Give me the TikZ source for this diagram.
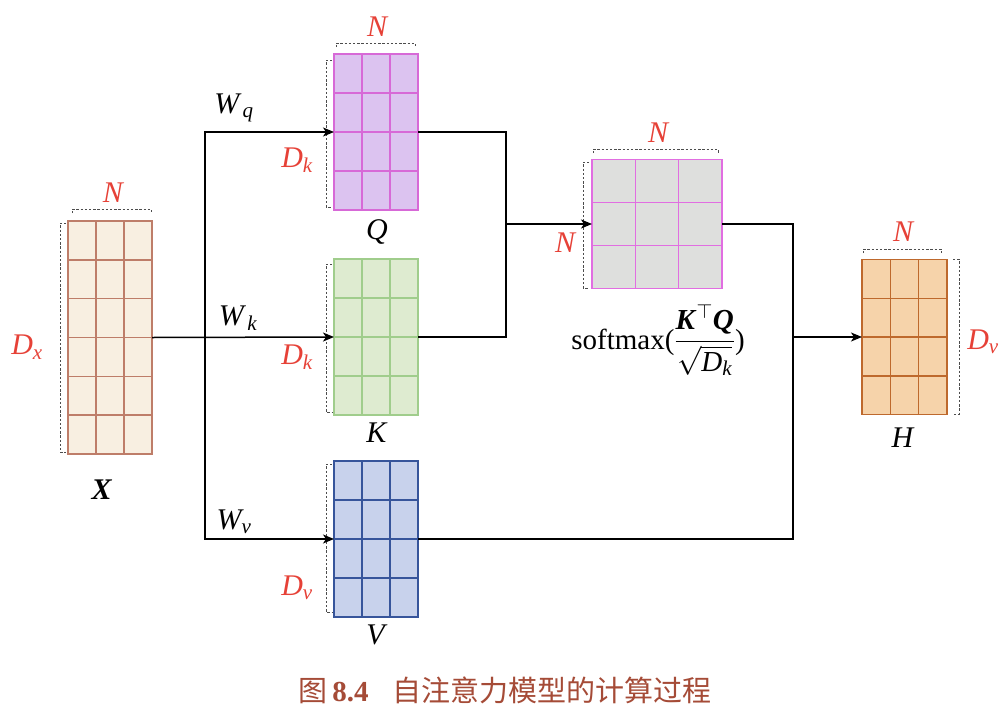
\RequirePackage{fix-cm}
\documentclass[tikz,border=0pt]{standalone}
\usepackage{amsmath}
\usepackage{fontspec}
\setmainfont{Liberation Serif}
\newfontfamily\cjk{Noto Sans CJK SC}
\usetikzlibrary{calc,arrows.meta}
\definecolor{Xfill}{RGB}{248,239,225}\definecolor{Xdraw}{RGB}{190,125,105}
\definecolor{Qfill}{RGB}{220,195,240}\definecolor{Qdraw}{RGB}{215,105,215}
\definecolor{Kfill}{RGB}{222,235,208}\definecolor{Kdraw}{RGB}{160,205,140}
\definecolor{Vfill}{RGB}{200,210,236}\definecolor{Vdraw}{RGB}{55,85,155}
\definecolor{Sfill}{RGB}{222,223,221}\definecolor{Sdraw}{RGB}{225,110,225}
\definecolor{Hfill}{RGB}{246,211,170}\definecolor{Hdraw}{RGB}{190,105,45}
\definecolor{lblred}{RGB}{230,65,55}
\definecolor{capcol}{RGB}{165,75,55}
\newcommand\mgrid[3]{%
  \foreach \i in {1,2}
    \draw[#3,line width=1.5pt] ($(#1.north west)!\i/3!(#1.north east)$) -- ($(#1.south west)!\i/3!(#1.south east)$);
  \foreach \j in {#2}
    \draw[#3,line width=1.5pt] ($(#1.north west)!\j!(#1.south west)$) -- ($(#1.north east)!\j!(#1.south east)$);
}
\newcommand\sbx[1]{\mbox{\fontsize{21}{24}\selectfont\itshape #1}}
\begin{document}
\begin{tikzpicture}[x=1pt,y=-1pt,
  mat/.style={line width=1.6pt,inner sep=0pt,outer sep=0pt},
  conn/.style={line width=1.5pt,black},
  arr/.style={conn,-{Stealth[length=11pt,width=9pt,inset=3pt]}},
  dbr/.style={line width=0.8pt,black!70,dash pattern=on 2.4pt off 1.8pt},
  red/.style={text=lblred,inner sep=0pt,font=\fontsize{30}{34}\selectfont},
  lbl/.style={text=black,inner sep=0pt,font=\fontsize{30}{34}\selectfont}]
\useasboundingbox (0,0) rectangle (1008,720);
% matrices
\node[mat,fill=Xfill,draw=Xdraw,minimum width=84pt,minimum height=233pt] (X) at (110,337.5) {};
\mgrid{X}{1/6,2/6,3/6,4/6,5/6}{Xdraw}
\node[mat,fill=Qfill,draw=Qdraw,minimum width=84pt,minimum height=156pt] (Q) at (376,132) {};
\mgrid{Q}{1/4,2/4,3/4}{Qdraw}
\node[mat,fill=Kfill,draw=Kdraw,minimum width=84pt,minimum height=156pt] (K) at (376,337) {};
\mgrid{K}{1/4,2/4,3/4}{Kdraw}
\node[mat,fill=Vfill,draw=Vdraw,minimum width=84pt,minimum height=156pt] (V) at (376,539) {};
\mgrid{V}{1/4,2/4,3/4}{Vdraw}
\node[mat,fill=Sfill,draw=Sdraw,minimum width=130pt,minimum height=129pt] (S) at (657,224) {};
\mgrid{S}{1/3,2/3}{Sdraw}
\node[mat,fill=Hfill,draw=Hdraw,minimum width=85pt,minimum height=155pt] (H) at (904.5,337) {};
\mgrid{H}{1/4,2/4,3/4}{Hdraw}
% brackets
\draw[dbr] (72,213) -- (72,209) -- (151,209) -- (151,213);
\draw[dbr] (66,223) -- (60,223) -- (60,452) -- (66,452);
\draw[dbr] (336,47) -- (336,43) -- (415,43) -- (415,47);
\draw[dbr] (332,60) -- (326,60) -- (326,207) -- (332,207);
\draw[dbr] (332,264) -- (326,264) -- (326,412) -- (332,412);
\draw[dbr] (332,464) -- (326,464) -- (326,612) -- (332,612);
\draw[dbr] (593,153) -- (593,149) -- (718,149) -- (718,153);
\draw[dbr] (589,162) -- (583,162) -- (583,288) -- (589,288);
\draw[dbr] (863,253) -- (863,249) -- (941,249) -- (941,253);
\draw[dbr] (953,259) -- (959,259) -- (959,414) -- (953,414);
% connectors
\coordinate (j) at (205,337);
\coordinate (m) at (506,224);
\coordinate (n) at (793,337);
\draw[arr] (X.east) -- (K.west);
\draw[arr] (j) |- (Q.west);
\draw[arr] (j) |- (V.west);
\draw[conn] (Q.east) -| (m);
\draw[conn] (K.east) -| (m);
\draw[arr] (m) -- (S.west);
\draw[conn] (S.east) -| (n);
\draw[conn] (V.east) -| (n);
\draw[arr] (n) -- (H.west);
% labels
\node[red] (nX) at (113,193) {$\textit{N}$};
\node[red] (dX) at (27,347) {$\textit{D}_{\textit{x}}$};
\node[lbl] (lX) at (102,490) {\textbf{\textit{X}}};
\node[red] (nQ) at (377,27) {$\textit{N}$};
\node[red] (dQ) at (297,160) {$\textit{D}_{\textit{k}}$};
\node[lbl] (wQ) at (234,108) {$\textit{W}_{\,\textit{q}}$};
\node[lbl] (lQ) at (377,232) {\textit{Q}};
\node[red] (dK) at (297,357) {$\textit{D}_{\textit{k}}$};
\node[lbl] (wK) at (238,318) {$\textit{W}_{\,\textit{k}}$};
\node[lbl] (lK) at (377,433) {\textit{K}};
\node[red] (dV) at (297,588) {$\textit{D}_{\textit{v}}$};
\node[lbl] (wV) at (234,522) {$\textit{W}_{\textit{v}}$};
\node[lbl] (lV) at (377,635) {\textit{V}};
\node[red] (nS) at (658,133) {$\textit{N}$};
\node[red] (nS2) at (565,243) {$\textit{N}$};
\node[lbl,font=\fontsize{29}{34}\selectfont] (sm) at (658,340) {softmax($\dfrac{\mbox{\textbf{\textit{K}}}^{\top}\mbox{\textbf{\textit{Q}}}\rule[-5pt]{0pt}{5pt}}{\sqrt{\rule{0pt}{22pt}\mbox{\textit{D}}_{\sbx{k}}}}$)};
\node[red] (nH) at (903,232) {$\textit{N}$};
\node[red] (dH) at (983,342) {$\textit{D}_{\textit{v}}$};
\node[lbl] (lH) at (903,438) {\textit{H}};
\node[text=capcol,inner sep=0pt,font=\fontsize{29}{34}\selectfont] (cap) at (505,690) {{\cjk 图}\,\textbf{8.4}\hspace{24pt}{\cjk 自注意力模型的计算过程}};
\end{tikzpicture}
\end{document}
